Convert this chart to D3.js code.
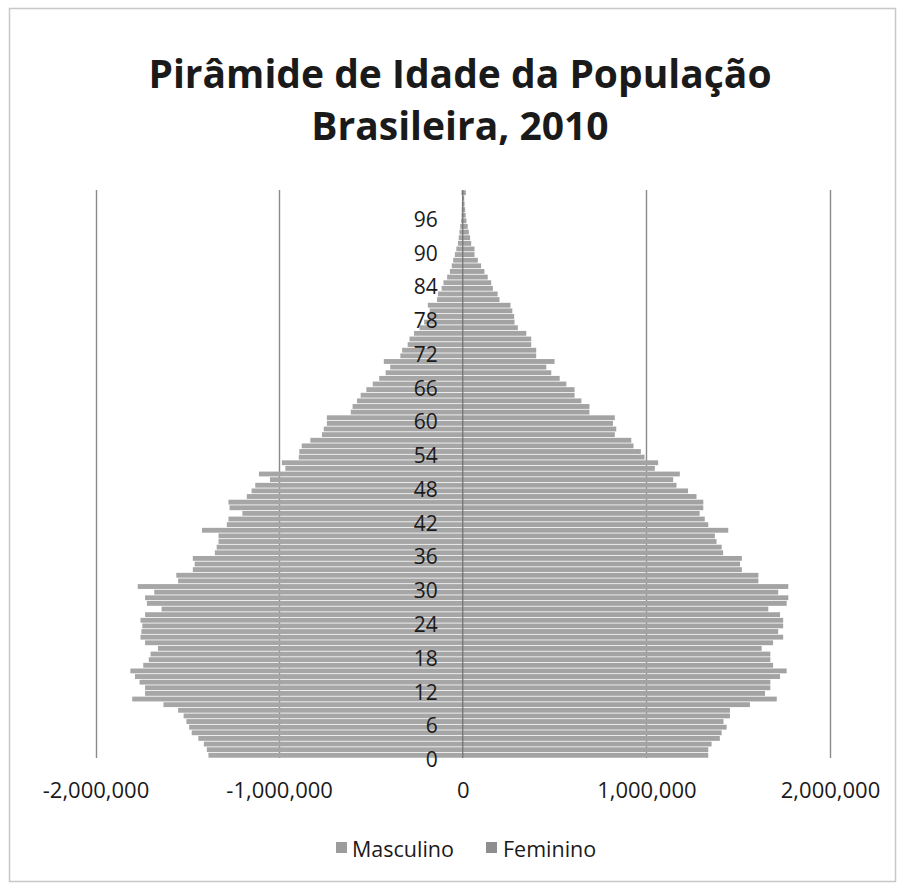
<!DOCTYPE html>
<html>
<head>
<meta charset="utf-8">
<script src="https://cdnjs.cloudflare.com/ajax/libs/d3/7.8.5/d3.min.js"></script>
<style>
  html, body { margin: 0; padding: 0; background: #fff; }
  svg { display: block; }
  text { font-family: "Open Sans", "DejaVu Sans", sans-serif; fill: #1a1a1a; }
</style>
</head>
<body>
<svg id="chart" width="906" height="889"></svg>
<script>
// ---- Data (Brazil 2010 census, population by single age) ----
const ages = d3.range(0, 101); // 0 .. 100
const seriesNames = ["Masculino", "Feminino"];
const masculino = [
  1385000, 1394000, 1410000, 1440000, 1476000, 1490000, 1505000, 1520000, 1550000, 1630000,
  1800000, 1730000, 1730000, 1760000, 1785000, 1810000, 1740000, 1710000, 1700000, 1660000,
  1730000, 1755000, 1750000, 1745000, 1755000, 1730000, 1640000, 1720000, 1730000, 1680000,
  1770000, 1550000, 1560000, 1470000, 1460000, 1470000, 1350000, 1340000, 1330000, 1330000,
  1420000, 1285000, 1276000, 1200000, 1270000, 1276000, 1176000, 1150000, 1130000, 1050000,
  1110000, 966000, 985000, 893000, 890000, 877000, 830000, 767000, 757000, 740000,
  740000, 610000, 600000, 576000, 556000, 525000, 490000, 455000, 420000, 395000,
  430000, 340000, 330000, 300000, 290000, 265000, 235000, 210000, 185000, 180000,
  190000, 140000, 135000, 115000, 105000, 85000, 70000, 60000, 52000, 43000,
  35000, 26000, 22000, 18000, 14000, 9000, 7000, 6000, 5000, 4000,
  7000
];
const feminino = [
  1337000, 1337000, 1355000, 1400000, 1410000, 1437000, 1420000, 1455000, 1455000, 1564000,
  1710000, 1646000, 1675000, 1675000, 1728000, 1764000, 1690000, 1675000, 1675000, 1628000,
  1690000, 1745000, 1718000, 1745000, 1745000, 1728000, 1664000, 1764000, 1773000, 1718000,
  1773000, 1610000, 1610000, 1520000, 1510000, 1520000, 1418000, 1410000, 1382000, 1373000,
  1446000, 1337000, 1318000, 1290000, 1310000, 1310000, 1273000, 1227000, 1164000, 1146000,
  1182000, 1046000, 1064000, 990000, 970000, 930000, 918000, 828000, 836000, 818000,
  828000, 690000, 690000, 646000, 609000, 609000, 564000, 528000, 482000, 455000,
  500000, 400000, 400000, 373000, 373000, 346000, 300000, 282000, 280000, 270000,
  260000, 200000, 190000, 164000, 155000, 136000, 118000, 100000, 82000, 64000,
  64000, 46000, 40000, 33000, 27000, 20000, 16000, 13000, 10000, 8000,
  17000
];
const xTicks = [-2000000, -1000000, 0, 1000000, 2000000];
const ageTickLabels = ages.filter(a => a % 6 === 0); // 0, 6, ..., 96
const titleLines = ["Pirâmide de Idade da População", "Brasileira, 2010"];

// ---- Layout ----
const svg = d3.select("#chart");
const plot = { left: 95.5, right: 830, top: 190, bottom: 758 };
const colors = { Masculino: "#a6a6a6", Feminino: "#a3a3a3" };
const legendColors = { Masculino: "#9c9c9c", Feminino: "#8e8e8e" };

// chart border
svg.append("rect")
  .attr("x", 9.5).attr("y", 8.5).attr("width", 886).attr("height", 873)
  .attr("fill", "none").attr("stroke", "#c8c8c8").attr("stroke-width", 1.5);

const x = d3.scaleLinear().domain([-2000000, 2000000]).range([plot.left, plot.right]);
const y = d3.scaleBand().domain(ages).range([plot.bottom, plot.top]).paddingInner(0.14).paddingOuter(0.05);

// Title
svg.append("g").selectAll("text").data(titleLines).join("text")
  .attr("x", 460).attr("y", (d, i) => 88 + i * 52)
  .attr("text-anchor", "middle")
  .style("font-size", "39px").style("font-weight", "bold")
  .text(d => d);

// Gridlines
svg.append("g").selectAll("line").data(xTicks.filter(t => t !== 0)).join("line")
  .attr("x1", d => Math.round(x(d)) + 0.5).attr("x2", d => Math.round(x(d)) + 0.5)
  .attr("y1", plot.top).attr("y2", plot.bottom)
  .attr("stroke", "#8a8a8a").attr("stroke-width", 1.4);

// Bars
const bars = svg.append("g");
bars.selectAll("rect.m").data(ages).join("rect").attr("class", "m")
  .attr("x", a => x(-masculino[a])).attr("width", a => x(0) - x(-masculino[a]))
  .attr("y", a => y(a)).attr("height", y.bandwidth())
  .attr("fill", colors.Masculino);
bars.selectAll("rect.f").data(ages).join("rect").attr("class", "f")
  .attr("x", x(0)).attr("width", a => x(feminino[a]) - x(0))
  .attr("y", a => y(a)).attr("height", y.bandwidth())
  .attr("fill", colors.Feminino);

// Zero (category) axis line
svg.append("line")
  .attr("x1", x(0)).attr("x2", x(0)).attr("y1", plot.top).attr("y2", plot.bottom)
  .attr("stroke", "#6e6e6e").attr("stroke-width", 1.2);

// Age labels (left of zero axis)
const yAxis = d3.axisLeft(y).tickValues(ageTickLabels).tickSize(0).tickPadding(25);
const yg = svg.append("g").attr("transform", `translate(${x(0)},5)`).call(yAxis);
yg.select(".domain").remove();
yg.selectAll("text").style("font-size", "21px").style("font-family", "'Open Sans', sans-serif").attr("fill", "#1a1a1a");

// X axis labels
const fmt = d3.format(",");
const xAxis = d3.axisBottom(x).tickValues(xTicks).tickSize(0).tickPadding(24)
  .tickFormat(d => fmt(d).replace("\u2212", "-"));
const xg = svg.append("g").attr("transform", `translate(0,${plot.bottom})`).call(xAxis);
xg.select(".domain").remove();
xg.selectAll("text").style("font-size", "22px").style("font-family", "'Open Sans', sans-serif").attr("fill", "#1a1a1a");

// Legend
const legendItems = [
  { name: seriesNames[0], sx: 336, tx: 352 },
  { name: seriesNames[1], sx: 486, tx: 503 }
];
const lg = svg.append("g");
lg.selectAll("rect").data(legendItems).join("rect")
  .attr("x", d => d.sx).attr("y", 842).attr("width", 11).attr("height", 11)
  .attr("fill", d => legendColors[d.name]);
lg.selectAll("text").data(legendItems).join("text")
  .attr("x", d => d.tx).attr("y", 857)
  .style("font-size", "21.5px")
  .text(d => d.name);
</script>
</body>
</html>
